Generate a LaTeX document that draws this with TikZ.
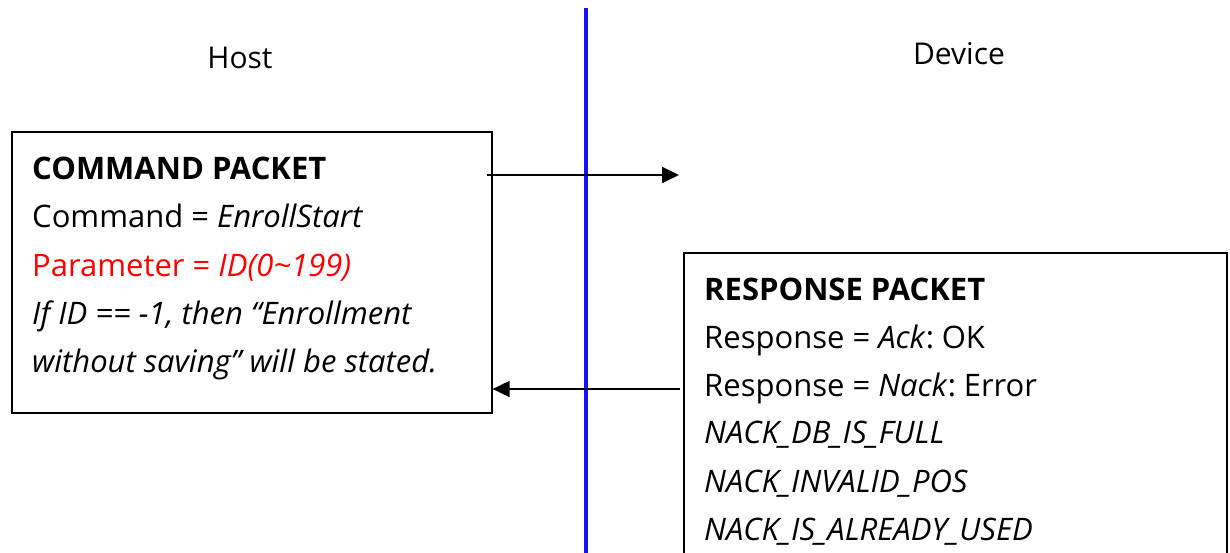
\documentclass[tikz,border=0pt]{standalone}
\usepackage{fontspec}
\setmainfont{Open Sans}
\usetikzlibrary{arrows.meta}
\definecolor{lineblue}{RGB}{20,20,240}
\definecolor{txtred}{RGB}{255,0,0}
\tikzset{
  pbox/.style={draw=black, line width=1.6pt, anchor=north west, inner sep=0pt},
  txt/.style={anchor=base west, inner sep=0pt, font=\fontsize{31}{36}\selectfont},
  btxt/.style={txt, font=\fontsize{31}{36}\selectfont\bfseries},
  head/.style={anchor=base, inner sep=0pt, font=\fontsize{30}{36}\selectfont},
  msg/.style={line width=1.8pt, -{Triangle[length=17pt,width=16pt]}},
}
\begin{document}
\begin{tikzpicture}[x=1pt,y=-1pt]
\useasboundingbox (0,0) rectangle (1230,553);
\clip (0,0) rectangle (1230,553);
\fill[white] (0,0) rectangle (1230,553);
% blue divider
\coordinate (ltop) at (586,8);
\coordinate (lbot) at (586,560);
\draw[lineblue, line width=3.5pt] (ltop) -- (lbot);
% headers
\node[head] (host) at (240,69) {Host};
\node[head] (dev) at (959,65) {Device};
% command box
\node[pbox, minimum width=480pt, minimum height=281pt] (cmd) at (11,131) {};
\node[btxt] (c1) at (32,180) {COMMAND PACKET};
\node[txt] (c2) at (32,228) {Command = \textit{EnrollStart}};
\node[txt, text=txtred] (c3) at (32,276) {Parameter = \textit{ID(0\textasciitilde199)}};
\node[txt] (c4) at (32,324) {\textit{If ID == -1, then “Enrollment}};
\node[txt] (c5) at (32,372) {\textit{without saving” will be stated.}};
% response box
\node[pbox, minimum width=543pt, minimum height=320pt] (rsp) at (683,252) {};
\node[btxt] (r1) at (704,300) {RESPONSE PACKET};
\node[txt] (r2) at (704,348) {Response = \textit{Ack}:\kern-3pt{} OK};
\node[txt] (r3) at (704,396) {Response = \textit{Nack}:\kern-3pt{} Error};
\node[txt] (r4) at (704,443) {\textit{NACK\_DB\_IS\_FULL}};
\node[txt] (r5) at (704,492) {\textit{NACK\_INVALID\_POS}};
\node[txt] (r6) at (704,540) {\textit{NACK\_IS\_ALREADY\_USED}};
% arrows
\coordinate (a1s) at (487,175);
\coordinate (a1e) at (679,175);
\draw[msg] (a1s) -- (a1e);
\coordinate (a2s) at (680,389);
\coordinate (a2e) at (cmd.east |- a2s);
\draw[msg] (a2s) -- (a2e);
\end{tikzpicture}
\end{document}
